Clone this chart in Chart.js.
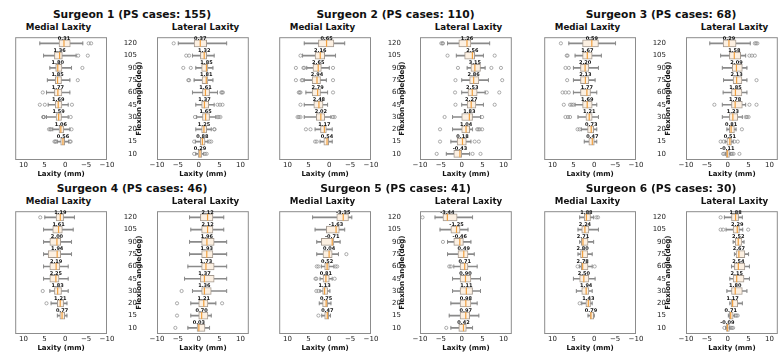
<!DOCTYPE html>
<html>
<head>
<meta charset="utf-8">
<script src="https://cdn.jsdelivr.net/npm/chart.js@4/dist/chart.umd.min.js"></script>
<style>
	html, body { margin: 0; padding: 0; background: #fff; overflow: hidden; }
	body { width: 778px; height: 352px; position: relative; font-family: "DejaVu Sans", sans-serif; color: #111; }
	canvas { position: absolute; }
	.title { position: absolute; font-weight: bold; white-space: nowrap; transform: translateX(-50%); }
</style>
</head>
<body>
<script>
var angles = ['120', '105', '90', '75', '60', '45', '30', '20', '15', '10'];
var xTicks = [-10, -5, 0, 5, 10];
var surgeons = ['Surgeon 1', 'Surgeon 2', 'Surgeon 3', 'Surgeon 4', 'Surgeon 5', 'Surgeon 6'];
var psCases = [155, 110, 68, 46, 41, 30];

// one row per angle (120 -> 10): [low whisker, q1, median, q3, high whisker, outliers]
var s1Medial = [
	[-4.2, -1.2, 0.31, 1.5, 6.1, [-5.6, -6.2]],
	[-2.6, 0.7, 1.36, 2.6, 5.2, [-3.1, -5.4]],
	[-1.5, 0.8, 1.80, 2.3, 3.7, [-4.1]],
	[-1.1, 0.9, 1.85, 2.4, 4.3, [-3.0]],
	[-1.1, 0.8, 1.77, 2.6, 4.5, [5.4]],
	[-0.7, 0.8, 1.69, 2.4, 4.1, [6.1, 4.9, -1.6]],
	[-0.7, 0.9, 1.59, 2.2, 4.5, [5.1, 5.2, 5.3, -1.3]],
	[-1.1, 0.4, 1.06, 1.5, 3.0, [3.9, 3.4, 3.6, -1.5]],
	[-0.8, 0.15, 0.56, 1.1, 1.9, [2.6, 2.2, 2.4, -1.1, -1.3]],
	null
];
var s1Lateral = [
	[-4.9, -1.1, 0.37, 1.9, 6.7, [-6.0]],
	[-1.5, 0.4, 1.32, 1.9, 3.7, [-3.0, -2.3]],
	[-0.7, 0.7, 1.85, 2.2, 3.4, [-3.7, -1.9]],
	[-1.1, 0.8, 1.81, 2.2, 3.4, [-2.3, -2.5]],
	[-1.5, 0.9, 1.61, 2.6, 4.5, [5.4, 5.6, 5.8]],
	[-0.7, 0.7, 1.37, 2.4, 3.7, [4.5, 5.1, 5.7]],
	[-0.5, 0.9, 1.65, 2.6, 4.1, [-0.9, 4.5, 4.8, 5.2]],
	[-0.7, 0.7, 1.25, 1.9, 3.0, [3.7, 3.8]],
	[-0.8, 0.4, 0.88, 1.5, 2.2, [-1.1, 2.6, 3.0]],
	[-0.7, -0.15, 0.29, 0.75, 1.2, [-1.1, 1.5, 1.9]]
];
var s2Medial = [
	[-3.7, -1.1, 0.65, 2.6, 6.0, []],
	[-1.5, 1.1, 2.16, 3.4, 6.4, [6.9]],
	[0, 1.9, 2.65, 3.9, 5.4, [8.0, 6.0, 6.2, -0.9]],
	[0.7, 2.1, 2.94, 4.1, 6.0, [8.0, 6.4, 6.6, -0.9]],
	[0.4, 2.1, 2.79, 4.1, 5.6, [7.3, 6.9, 7.1, -0.9]],
	[0.4, 1.5, 2.48, 3.7, 6.0, [6.9]],
	[-0.4, 1.1, 2.02, 3.1, 6.0, [7.6, 7.3, 6.9, -0.9, -1.3]],
	[-0.7, 0.7, 1.17, 2.1, 3.4, [5.6, 4.5]],
	[-0.7, 0.15, 0.54, 1.3, 2.2, [3.4, 3.0]],
	null
];
var s2Lateral = [
	[-3.4, -0.7, 1.26, 2.2, 6.7, [-4.9, -4.6, -4.5]],
	[-1.3, 0.7, 2.56, 3.1, 5.2, [-3.4, 7.9]],
	[1.3, 2.2, 3.15, 4.5, 5.6, [-0.9, 7.1, 9.4]],
	[0, 1.9, 2.86, 4.1, 6.4, [-1.5, 9.7]],
	[0, 1.5, 2.53, 3.7, 5.6, [-1.6, 6.0, 9.0]],
	[0, 1.3, 2.27, 3.4, 5.2, [-1.5, 7.9]],
	[-2.2, 0, 1.83, 2.6, 4.5, [-4.1, 4.9]],
	[-2.2, 0, 1.04, 1.9, 2.6, [-5.2, 3.7, 4.0, 4.3, 4.9]],
	[-2.6, -1.1, 0.18, 1.1, 2.2, [-5.2, 3.1, 4.1]],
	[-3.7, -1.9, -0.43, 0, 1.9, [-6.0, 2.6, 4.5]]
];
var s3Medial = [
	[-5.1, -1.0, 0.59, 2.8, 6.1, [8.0]],
	[-1.7, 0.5, 1.67, 2.8, 4.6, [6.4, 6.6]],
	[-1.0, 1.3, 2.20, 3.3, 5.0, [6.9, 6.1]],
	[-0.2, 1.3, 2.13, 3.3, 5.0, [6.5]],
	[-0.6, 0.9, 1.77, 3.3, 5.0, [7.6, 6.9, 6.1]],
	[-0.6, 0.5, 1.69, 2.8, 4.6, [7.3, 5.8, 5.4, 5.0]],
	[-1.0, 0.5, 1.21, 2.0, 3.9, [6.9, 6.3, 5.8]],
	[-0.6, 0.15, 0.73, 1.6, 3.1, [4.0, 3.5]],
	[-0.6, 0, 0.47, 1.3, 2.4, []],
	null
];
var s3Lateral = [
	[-4.3, -1.1, 0.29, 2.0, 5.4, [6.5, 6.8, 7.1]],
	[-1.7, 0.4, 1.58, 3.1, 4.3, [5.2, 5.8, 6.5]],
	[-1.3, 1.1, 2.09, 3.5, 4.6, []],
	[-1.0, 1.3, 2.13, 3.4, 4.6, [6.9]],
	[-1.1, 0.9, 1.85, 3.4, 4.6, []],
	[-1.3, 0.9, 1.78, 3.5, 4.3, [-3.2, 5.2, 6.9]],
	[-1.3, 0.4, 1.23, 2.4, 3.5, [4.3, 4.6, 5.0]],
	[-0.2, 0.4, 0.81, 1.6, 2.0, [3.4]],
	[-0.6, -0.2, 0.51, 0.9, 1.3, [-1.7, -1.0, 1.6, 2.4]],
	[-0.5, -0.4, -0.11, 0.4, 0.6, [-1.1, -0.8, 0.8, 1.1, 1.4, 2.8]]
];
var s4Medial = [
	[-2.2, 0.4, 1.19, 2.2, 4.9, [6.0]],
	[-1.9, 0.7, 1.61, 3.0, 5.2, []],
	[-1.5, 1.1, 2.00, 3.7, 5.2, []],
	[-1.5, 1.1, 1.94, 4.1, 5.2, []],
	[-0.7, 1.3, 2.19, 3.7, 5.2, []],
	[-0.7, 1.5, 2.25, 3.7, 5.2, []],
	[-0.7, 0.9, 1.83, 2.6, 3.7, [5.4]],
	[-0.4, 0.4, 1.21, 1.9, 3.4, [4.5]],
	[-0.4, 0.15, 0.77, 1.3, 1.9, []],
	null
];
var s4Lateral = [
	[-2.2, 0.4, 2.12, 3.4, 6.0, []],
	[-1.9, 0.7, 2.12, 3.4, 6.0, []],
	[-2.2, 0.7, 1.96, 3.7, 6.7, []],
	[-2.2, 0.7, 1.93, 3.4, 6.7, []],
	[-2.6, 0.7, 1.73, 3.7, 6.7, []],
	[-3.4, 0.4, 1.37, 3.7, 6.7, []],
	[-1.5, 0.7, 1.36, 3.0, 6.7, [-4.1]],
	[-1.9, 0, 1.21, 2.2, 4.1, [-5.2, 5.6]],
	[-1.9, 0, 0.70, 2.2, 3.0, [-5.2]],
	[-2.6, -0.4, 0.03, 1.5, 2.6, [-5.6]]
];
var s5Medial = [
	[-5.4, -4.6, -3.35, -1.8, 4.0, []],
	[-3.7, -2.4, -1.63, 0.7, 3.4, []],
	[-2.6, -1.1, -0.71, 1.9, 3.0, []],
	[-2.2, -0.7, 0.04, 1.5, 3.0, [-4.1]],
	[-1.1, 0, 0.52, 1.1, 1.9, [3.0, 2.6, -1.5, -1.9]],
	[-0.7, 0, 0.81, 1.5, 2.2, [3.1, 3.3, -1.3]],
	[-0.15, 0.4, 1.13, 1.6, 2.2, [3.1, 2.6]],
	[-0.4, 0.4, 0.75, 1.6, 2.4, []],
	[-0.3, 0.15, 0.47, 1.1, 1.8, [2.6]],
	null
];
var s5Lateral = [
	[-6.4, -4.5, -3.44, -1.1, 2.6, [-9.4]],
	[-5.2, -2.6, -1.25, -0.4, 1.5, []],
	[-3.4, -1.9, -0.46, 0.4, 2.2, [-4.5]],
	[-3.4, -0.9, 0.49, 1.5, 3.0, []],
	[-1.9, -0.4, 0.71, 1.5, 3.7, [-3.0, -2.6]],
	[-2.2, -0.4, 0.90, 2.2, 4.5, []],
	[-2.2, -0.4, 1.11, 2.6, 4.5, []],
	[-2.6, -0.4, 0.98, 2.2, 3.7, []],
	[-3.0, -0.4, 0.97, 1.9, 4.1, []],
	[-2.6, -0.7, 0.42, 1.1, 2.6, [-3.7]]
];
var s6Medial = [
	[0.15, 0.9, 1.88, 2.4, 3.5, [-0.5, -0.9]],
	[-1.0, 1.3, 2.24, 3.0, 3.9, []],
	[0.15, 1.5, 2.71, 3.1, 3.5, []],
	[0.5, 1.6, 2.80, 3.3, 3.9, []],
	[0.5, 1.5, 2.78, 3.1, 3.5, [4.0, -0.1]],
	[-0.2, 1.3, 2.50, 3.5, 5.0, []],
	[0.5, 1.3, 1.94, 3.0, 4.3, []],
	[0.5, 0.9, 1.43, 2.0, 3.0, [3.5]],
	[0, 0.15, 0.79, 1.0, 1.5, []],
	null
];
var s6Lateral = [
	[-0.8, 0.9, 1.88, 2.6, 3.5, [-1.7]],
	[-0.4, 1.3, 2.29, 2.8, 3.6, [-1.7, -1.1, 4.9]],
	[1.3, 1.8, 2.52, 3.4, 3.9, []],
	[1.6, 2.0, 2.67, 4.1, 5.0, []],
	[0.9, 1.6, 2.54, 4.1, 5.2, []],
	[0.5, 1.3, 2.15, 3.9, 5.2, []],
	[-0.2, 0.9, 1.80, 3.5, 4.6, []],
	[0.5, 0.8, 1.17, 2.4, 3.5, []],
	[0.15, 0.4, 0.71, 1.3, 1.6, [1.9, 2.1, 2.4]],
	[-0.5, -0.3, -0.09, 0.4, 0.5, [-0.8, 0.7, 1.0, 1.3]]
];

var medialData = [s1Medial, s2Medial, s3Medial, s4Medial, s5Medial, s6Medial];
var lateralData = [s1Lateral, s2Lateral, s3Lateral, s4Lateral, s5Lateral, s6Lateral];

var medLeft = [10, 274, 539];
var latLeft = [157, 420, 686];
var rowTop = [32, 206];
var PANEL_W = 97, PANEL_H = 128, XAXIS_H = 20;

var GREY = '#8a8a8a', ORANGE = '#f0a040', BOX_EDGE = '#a59a90', BOX_FILL = '#fcf0e2';

Chart.defaults.font.family = '"DejaVu Sans", sans-serif';
Chart.defaults.color = '#222';

var framePlugin = {
	id: 'frame',
	beforeDatasetsDraw: function (chart) {
		var a = chart.chartArea, ctx = chart.ctx;
		ctx.save();
		ctx.strokeStyle = '#8c8c8c';
		ctx.lineWidth = 1;
		ctx.strokeRect(a.left + 0.5, a.top + 0.5, a.right - a.left - 1, a.bottom - a.top - 1);
		ctx.restore();
	}
};

// median value written above every box
var medianLabels = {
	id: 'medianLabels',
	afterDatasetsDraw: function (chart) {
		var ctx = chart.ctx,
			meta = chart.getDatasetMeta(0),
			data = chart.data.datasets[0].data;
		ctx.save();
		ctx.font = 'bold 5px "DejaVu Sans"';
		ctx.textAlign = 'center';
		ctx.textBaseline = 'bottom';
		ctx.fillStyle = '#111';
		meta.data.forEach(function (pt, i) {
			ctx.fillText(data[i].x.toFixed(2), pt.x, pt.y - 2.5);
		});
		ctx.restore();
	}
};

function addText(text, cx, cy, size) {
	var d = document.createElement('div');
	d.className = 'title';
	d.textContent = text;
	d.style.fontSize = size + 'px';
	d.style.lineHeight = size + 'px';
	d.style.left = cx + 'px';
	d.style.top = (cy - size / 2) + 'px';
	document.body.appendChild(d);
}

function makePanel(rows, medial, left, top) {
	var axisW = medial ? 30 : 24;
	var canvas = document.createElement('canvas');
	canvas.width = PANEL_W + axisW;
	canvas.height = PANEL_H + XAXIS_H;
	canvas.style.left = (medial ? left : left - axisW) + 'px';
	canvas.style.top = top + 'px';
	document.body.appendChild(canvas);

	var whiskers = [], boxes = [], caps = [], medians = [], outliers = [];
	rows.forEach(function (r, i) {
		var a = angles[i];
		if (!r) {
			whiskers.push(null);
			boxes.push(null);
			return;
		}
		whiskers.push([r[0], r[4]]);
		boxes.push([r[1], r[3]]);
		caps.push({x: r[0], y: a}, {x: r[4], y: a});
		medians.push({x: r[2], y: a});
		r[5].forEach(function (v) { outliers.push({x: v, y: a}); });
	});

	new Chart(canvas, {
		type: 'bar',
		data: {
			labels: angles,
			datasets: [
				{type: 'scatter', data: medians, pointStyle: 'line', rotation: 90, radius: 3.5, borderColor: ORANGE, borderWidth: 1.2, order: 1},
				{type: 'scatter', data: outliers, pointStyle: 'circle', radius: 1.6, borderColor: GREY, backgroundColor: 'rgba(0,0,0,0)', borderWidth: 0.7, order: 2},
				{type: 'scatter', data: caps, pointStyle: 'line', rotation: 90, radius: 2, borderColor: GREY, borderWidth: 1, order: 3},
				{data: boxes, backgroundColor: BOX_FILL, borderColor: BOX_EDGE, borderWidth: 1, borderSkipped: false, barThickness: 7, grouped: false, order: 4},
				{data: whiskers, backgroundColor: GREY, borderWidth: 0, barThickness: 1, grouped: false, order: 5}
			]
		},
		options: {
			indexAxis: 'y',
			responsive: false,
			animation: false,
			events: [],
			layout: {padding: 0},
			plugins: {legend: {display: false}, tooltip: {enabled: false}},
			scales: {
				x: {
					type: 'linear',
					min: -10,
					max: 12,
					reverse: medial,
					grid: {display: false, drawTicks: false},
					border: {display: false},
					afterBuildTicks: function (s) {
						s.ticks = xTicks.map(function (v) { return {value: v}; });
					},
					ticks: {
						padding: 1,
						maxRotation: 0,
						font: {size: 7},
						callback: function (v) { return v < 0 ? '\u2212' + Math.abs(v) : String(v); }
					},
					title: {display: true, text: 'Laxity (mm)', color: '#111', font: {size: 7, weight: 'bold'}, padding: {top: 0, bottom: 2}},
					afterFit: function (s) { s.height = XAXIS_H; s.paddingLeft = 0; s.paddingRight = 0; }
				},
				y: {
					type: 'category',
					position: medial ? 'right' : 'left',
					offset: true,
					grid: {display: false, drawTicks: false},
					border: {display: false},
					ticks: {display: medial, padding: 13, crossAlign: 'far', font: {size: 7}},
					title: {display: !medial, text: 'Flexion angle(deg)', color: '#111', font: {size: 7, weight: 'bold'}, padding: {top: 2, bottom: 0}},
					afterFit: function (s) { s.width = axisW; s.paddingTop = 0; s.paddingBottom = 0; }
				}
			}
		},
		plugins: [framePlugin, medianLabels]
	});
}

surgeons.forEach(function (name, k) {
	var col = k % 3, row = Math.floor(k / 3);
	var top = rowTop[row];
	var mL = medLeft[col], lL = latLeft[col];
	addText(name + ' (PS cases: ' + psCases[k] + ')', (mL + lL + PANEL_W) / 2, top - 17, 10.7);
	addText('Medial Laxity', mL + PANEL_W / 2, top - 5, 8.7);
	addText('Lateral Laxity', lL + PANEL_W / 2, top - 5, 8.7);
	makePanel(medialData[k], true, mL, top);
	makePanel(lateralData[k], false, lL, top);
});
</script>
</body>
</html>
